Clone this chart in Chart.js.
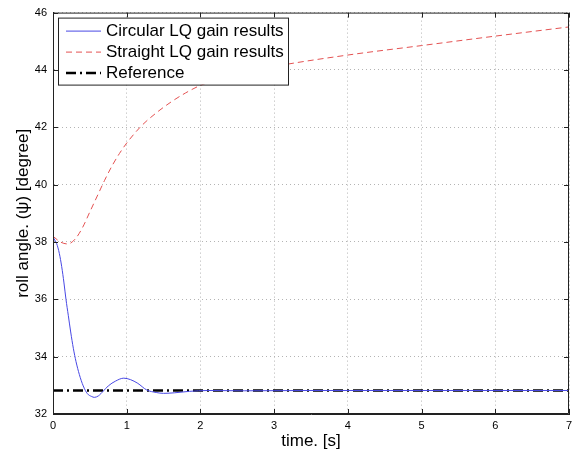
<!DOCTYPE html>
<html lang="en">
<head>
  <meta charset="UTF-8" />
  <title>Roll angle</title>
  <script src="https://cdn.jsdelivr.net/npm/chart.js"></script>
  <style>
    html, body { margin: 0; padding: 0; background: #fff; }
    #wrap { position: relative; width: 578px; height: 455px; }
  </style>
</head>
<body>
  <div id="wrap"><canvas id="rollChart"></canvas></div>

  <script>
    // data
    const circularTime = [0, 0.014, 0.05, 0.086, 0.118, 0.149, 0.176, 0.208, 0.24, 0.276, 0.312, 0.357, 0.41, 0.466, 0.525, 0.56, 0.615, 0.683, 0.75, 0.85, 0.96, 1.05, 1.15, 1.27, 1.4, 1.5, 1.65, 1.85, 2.1, 2.6, 3.5, 5, 7];
    const circularRoll = [38.2, 38.11, 37.94, 37.6, 37.14, 36.57, 36.0, 35.43, 34.86, 34.29, 33.83, 33.38, 32.98, 32.71, 32.61, 32.58, 32.63, 32.8, 32.98, 33.15, 33.25, 33.2, 33.07, 32.84, 32.75, 32.72, 32.74, 32.79, 32.82, 32.81, 32.82, 32.82, 32.82];
    const straightTime = [0, 0.1, 0.2, 0.3, 0.4, 0.5, 0.6, 0.7, 0.8, 0.9, 1, 1.2, 1.4, 1.6, 1.8, 2, 2.5, 3, 4, 5, 6, 7];
    const straightRoll = [38.2, 38.0, 37.93, 38.1, 38.5, 39.05, 39.6, 40.15, 40.65, 41.08, 41.45, 42.05, 42.5, 42.88, 43.2, 43.46, 43.85, 44.12, 44.52, 44.85, 45.18, 45.5];
    const refTime = [0, 7];
    const refRoll = [32.82, 32.82];
    const legendLabels = ['Circular LQ gain results', 'Straight LQ gain results', 'Reference'];

    const toPoints = (xs, ys) => xs.map((x, i) => ({ x: x, y: ys[i] }));
    const font = 'Liberation Sans, Arial, Helvetica, sans-serif';

    const lineColors = ['rgb(72,72,228)', 'rgb(228,82,82)', '#000'];
    const lineDashes = [[], [6, 4], [10, 4, 2, 4]];
    const lineWidths = [1, 1, 2.5];

    // inward ticks, top/right frame, legend box
    const matlabLook = {
      id: 'matlabLook',
      afterDraw(chart) {
        const ctx = chart.ctx;
        const a = chart.chartArea;
        const xs = chart.scales.x, ys = chart.scales.y;
        ctx.save();
        ctx.strokeStyle = '#222';
        ctx.lineWidth = 1;
        ctx.setLineDash([]);
        ctx.beginPath();
        ctx.rect(a.left + 0.5, a.top + 0.5, a.right - a.left - 1, a.bottom - a.top - 1);
        ctx.stroke();
        ctx.beginPath();
        xs.ticks.forEach(t => {
          const px = Math.round(xs.getPixelForValue(t.value)) + 0.5;
          ctx.moveTo(px, a.bottom); ctx.lineTo(px, a.bottom - 5);
          ctx.moveTo(px, a.top); ctx.lineTo(px, a.top + 5);
        });
        ys.ticks.forEach(t => {
          const py = Math.round(ys.getPixelForValue(t.value)) + 0.5;
          ctx.moveTo(a.left, py); ctx.lineTo(a.left + 5, py);
          ctx.moveTo(a.right, py); ctx.lineTo(a.right - 5, py);
        });
        ctx.stroke();

        // legend
        const bx = a.left + 5, by = a.top + 5, bw = 230, bh = 67;
        ctx.fillStyle = '#fff';
        ctx.fillRect(bx, by, bw, bh);
        ctx.strokeStyle = '#222';
        ctx.strokeRect(bx + 0.5, by + 0.5, bw, bh);
        ctx.font = '17px ' + font;
        ctx.textBaseline = 'middle';
        legendLabels.forEach((label, i) => {
          const cy = by + 13 + i * 21;
          ctx.strokeStyle = lineColors[i];
          ctx.lineWidth = lineWidths[i];
          ctx.setLineDash(lineDashes[i]);
          ctx.beginPath();
          ctx.moveTo(bx + 8, cy + 0.5); ctx.lineTo(bx + 43, cy + 0.5);
          ctx.stroke();
          ctx.setLineDash([]);
          ctx.fillStyle = '#000';
          ctx.fillText(label, bx + 48, cy + 1);
        });
        ctx.restore();
      }
    };

    new Chart(document.getElementById('rollChart'), {
      type: 'line',
      data: {
        datasets: [
          {
            label: legendLabels[0],
            data: toPoints(circularTime, circularRoll),
            borderColor: lineColors[0],
            borderWidth: lineWidths[0],
            cubicInterpolationMode: 'monotone'
          },
          {
            label: legendLabels[1],
            data: toPoints(straightTime, straightRoll),
            borderColor: lineColors[1],
            borderWidth: lineWidths[1],
            borderDash: lineDashes[1],
            cubicInterpolationMode: 'monotone'
          },
          {
            label: legendLabels[2],
            data: toPoints(refTime, refRoll),
            borderColor: lineColors[2],
            borderWidth: lineWidths[2],
            borderDash: lineDashes[2]
          }
        ]
      },
      options: {
        responsive: true,
        maintainAspectRatio: false,
        animation: false,
        elements: { point: { radius: 0 } },
        layout: { padding: { top: 8, right: 9, left: 0, bottom: 0 } },
        plugins: { legend: { display: false }, tooltip: { enabled: false } },
        scales: {
          x: {
            type: 'linear',
            min: 0, max: 7,
            afterFit: s => { s.height = 41; },
            grid: { color: '#b4b4b4', drawTicks: false },
            border: { color: '#222', dash: [1, 3] },
            ticks: { stepSize: 1, padding: 5, color: '#000', font: { family: font, size: 11 } },
            title: { display: true, text: 'time. [s]', color: '#000', font: { family: font, size: 17 }, padding: { top: 0, bottom: 3 } }
          },
          y: {
            min: 32, max: 46,
            afterFit: s => { s.width = 53; },
            grid: { color: '#b4b4b4', drawTicks: false },
            border: { color: '#222', dash: [1, 3] },
            ticks: { stepSize: 2, padding: 6, color: '#000', font: { family: font, size: 11 } },
            title: { display: true, text: 'roll angle. (ψ) [degree]', color: '#000', font: { family: font, size: 17 }, padding: { top: 13, bottom: 0 } }
          }
        }
      },
      plugins: [matlabLook]
    });
  </script>
</body>
</html>
